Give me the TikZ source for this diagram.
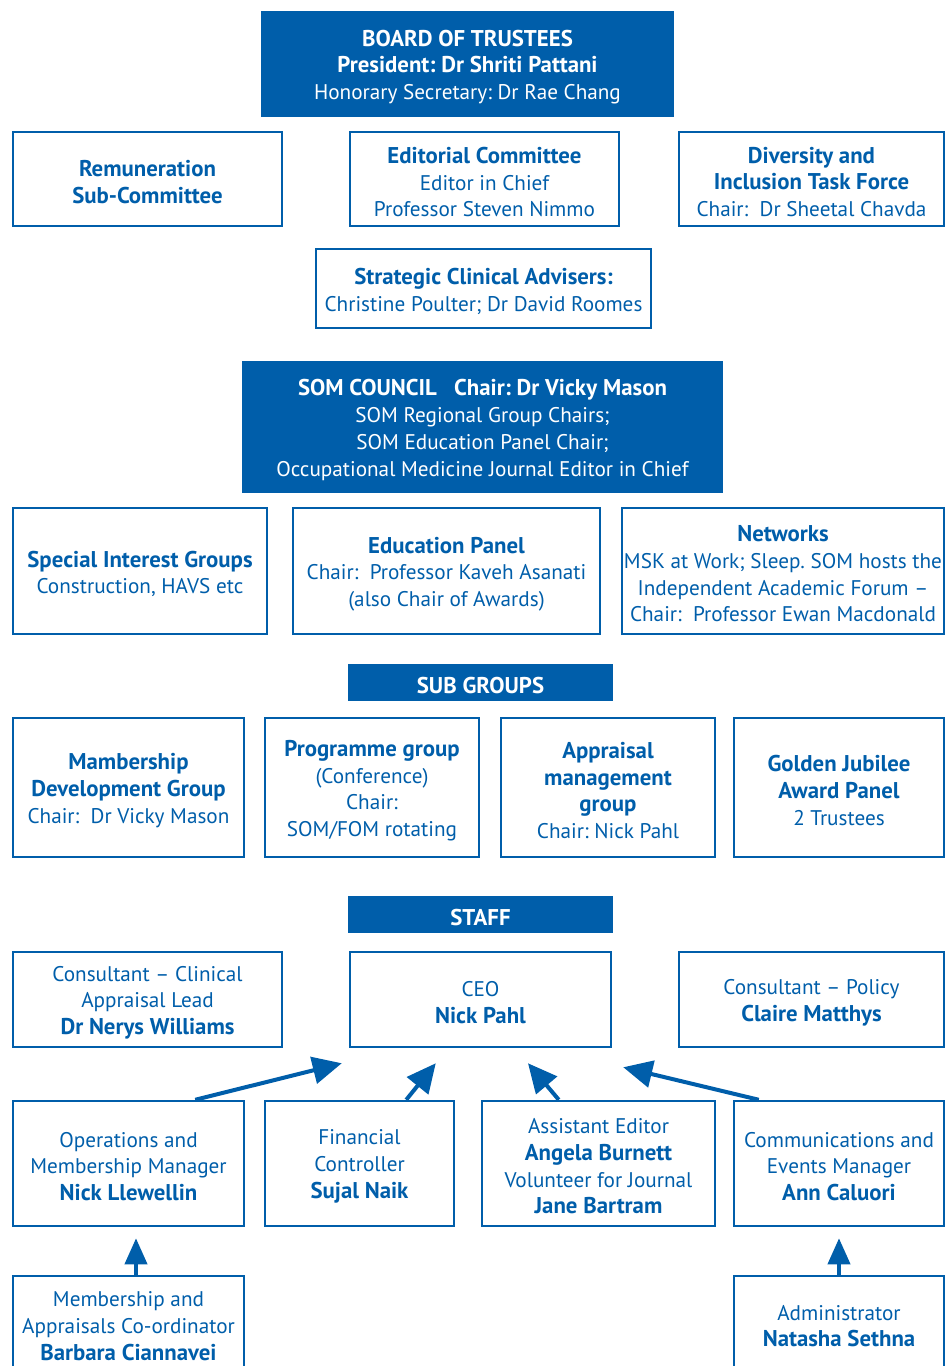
\documentclass[tikz,border=0pt]{standalone}
\usepackage{fontspec}
\setmainfont{PT Sans}
\usetikzlibrary{arrows.meta,calc}
\definecolor{somblue}{RGB}{0,94,170}
\frenchspacing
\newcommand{\hb}[1]{{\fontsize{22.8}{26.7}\selectfont\bfseries #1}}
\tikzset{
  box/.style={draw=somblue, line width=2.5pt, rectangle, inner sep=0pt},
  fbox/.style={fill=somblue, draw=none, rectangle, inner sep=0pt},
  txt/.style={align=center, text=somblue, inner sep=0pt, yshift=-3pt, font=\fontsize{21.2}{26.7}\selectfont},
  wtxt/.style={txt, text=white},
  bigarrow/.style={draw=somblue, line width=4pt, -{Triangle[length=29pt,width=27pt]}},
  uparrow/.style={draw=somblue, line width=4pt, -{Triangle[length=26pt,width=22pt]}}
}
\begin{document}
\begin{tikzpicture}[x=1pt,y=-1pt]
\clip (0,0) rectangle (946,1366);
\node[fbox, minimum width=413pt, minimum height=106pt] (board) at (467.5,64) {};
\node[wtxt] (boardt) at (board.center) {\hb{BOARD OF TRUSTEES}\\\hb{President: Dr Shriti Pattani}\\Honorary Secretary: Dr Rae Chang};
\node[box, minimum width=269pt, minimum height=94pt] (rem) at (147.5,179) {};
\node[txt] (remt) at (rem.center) {\hb{Remuneration}\\\hb{Sub-Committee}};
\node[box, minimum width=269pt, minimum height=94pt] (edit) at (484.5,179) {};
\node[txt] (editt) at (edit.center) {\hb{Editorial Committee}\\Editor in Chief\\Professor Steven Nimmo};
\node[box, minimum width=265pt, minimum height=94pt] (div) at (811.5,179) {};
\node[txt] (divt) at (div.center) {\hb{Diversity and}\\\hb{Inclusion Task Force}\\Chair:\ \ Dr Sheetal Chavda};
\node[box, minimum width=335pt, minimum height=79pt] (strat) at (483.5,288.5) {};
\node[txt] (stratt) at (strat.center) {\hb{Strategic Clinical Advisers:}\\Christine Poulter; Dr David Roomes};
\node[fbox, minimum width=481pt, minimum height=132pt] (council) at (482.5,427) {};
\node[wtxt] (councilt) at (council.center) {\hb{SOM COUNCIL\ \ \ Chair: Dr Vicky Mason}\\SOM Regional Group Chairs;\\SOM Education Panel Chair;\\Occupational Medicine Journal Editor in Chief};
\node[box, minimum width=254pt, minimum height=126pt] (sig) at (140,571) {};
\node[txt] (sigt) at (sig.center) {\hb{Special Interest Groups}\\Construction, HAVS etc};
\node[box, minimum width=307pt, minimum height=126pt] (edu) at (446.5,571) {};
\node[txt] (edut) at (edu.center) {\hb{Education Panel}\\Chair:\ \ Professor Kaveh Asanati\\(also Chair of Awards)};
\node[box, minimum width=322pt, minimum height=126pt] (net) at (783,571) {};
\node[txt] (nett) at (net.center) {\hb{Networks}\\MSK at Work; Sleep. SOM hosts the\\Independent Academic Forum –\\Chair:\ \ Professor Ewan Macdonald};
\node[fbox, minimum width=265pt, minimum height=37pt] (sub) at (480.5,682.5) {};
\node[wtxt] (subt) at (sub.center) {\hb{SUB GROUPS}};
\node[box, minimum width=231pt, minimum height=139pt] (mdg) at (128.5,787.5) {};
\node[txt] (mdgt) at (mdg.center) {\hb{Mambership}\\\hb{Development Group}\\Chair:\ \ Dr Vicky Mason};
\node[box, minimum width=214pt, minimum height=139pt] (prog) at (372,787.5) {};
\node[txt] (progt) at (prog.center) {\hb{Programme group}\\(Conference)\\Chair:\\SOM/FOM rotating};
\node[box, minimum width=214pt, minimum height=139pt] (appr) at (608,787.5) {};
\node[txt] (apprt) at (appr.center) {\hb{Appraisal}\\\hb{management}\\\hb{group}\\Chair: Nick Pahl};
\node[box, minimum width=210pt, minimum height=139pt] (gold) at (839,787.5) {};
\node[txt] (goldt) at (gold.center) {\hb{Golden Jubilee}\\\hb{Award Panel}\\2 Trustees};
\node[fbox, minimum width=265pt, minimum height=37pt] (staff) at (480.5,914.5) {};
\node[wtxt] (stafft) at (staff.center) {\hb{STAFF}};
\node[box, minimum width=269pt, minimum height=95pt] (cons1) at (147.5,999.5) {};
\node[txt] (cons1t) at (cons1.center) {Consultant – Clinical\\Appraisal Lead\\\hb{Dr Nerys Williams}};
\node[box, minimum width=261pt, minimum height=95pt] (ceo) at (480.5,999.5) {};
\node[txt] (ceot) at (ceo.center) {CEO\\\hb{Nick Pahl}};
\node[box, minimum width=265pt, minimum height=95pt] (cons2) at (811.5,999.5) {};
\node[txt] (cons2t) at (cons2.center) {Consultant – Policy\\\hb{Claire Matthys}};
\node[box, minimum width=231pt, minimum height=125pt] (ops) at (128.5,1163.5) {};
\node[txt] (opst) at (ops.center) {Operations and\\Membership Manager\\\hb{Nick Llewellin}};
\node[box, minimum width=189pt, minimum height=125pt] (fin) at (359.5,1163.5) {};
\node[txt] (fint) at (fin.center) {Financial\\Controller\\\hb{Sujal Naik}};
\node[box, minimum width=233pt, minimum height=125pt] (asst) at (598.5,1163.5) {};
\node[txt] (asstt) at (asst.center) {Assistant Editor\\\hb{Angela Burnett}\\Volunteer for Journal\\\hb{Jane Bartram}};
\node[box, minimum width=210pt, minimum height=125pt] (comm) at (839,1163.5) {};
\node[txt] (commt) at (comm.center) {Communications and\\Events Manager\\\hb{Ann Caluori}};
\node[box, minimum width=231pt, minimum height=94pt] (mac) at (128.5,1323) {};
\node[txt] (mact) at (mac.center) {Membership and\\Appraisals Co-ordinator\\\hb{Barbara Ciannavei}};
\node[box, minimum width=210pt, minimum height=94pt] (admin) at (839,1323) {};
\node[txt] (admint) at (admin.center) {Administrator\\\hb{Natasha Sethna}};
\draw[bigarrow] ($(ops.north east)+(-50,0)$) -- ($(ceo.south west)+(-7,15)$);
\draw[bigarrow] ($(fin.north east)+(-49,0)$) -- ($(ceo.south west)+(87,15)$);
\draw[bigarrow] ($(asst.north west)+(78,0)$) -- ($(ceo.south)+(47.5,15)$);
\draw[bigarrow] ($(comm.north west)+(26,0)$) -- ($(ceo.south east)+(11,19)$);
\draw[uparrow] ($(mac.north)+(7.5,0)$) -- ($(ops.south)+(7.5,11)$);
\draw[uparrow] (admin.north) -- ($(comm.south)+(0,11)$);
\end{tikzpicture}
\end{document}
